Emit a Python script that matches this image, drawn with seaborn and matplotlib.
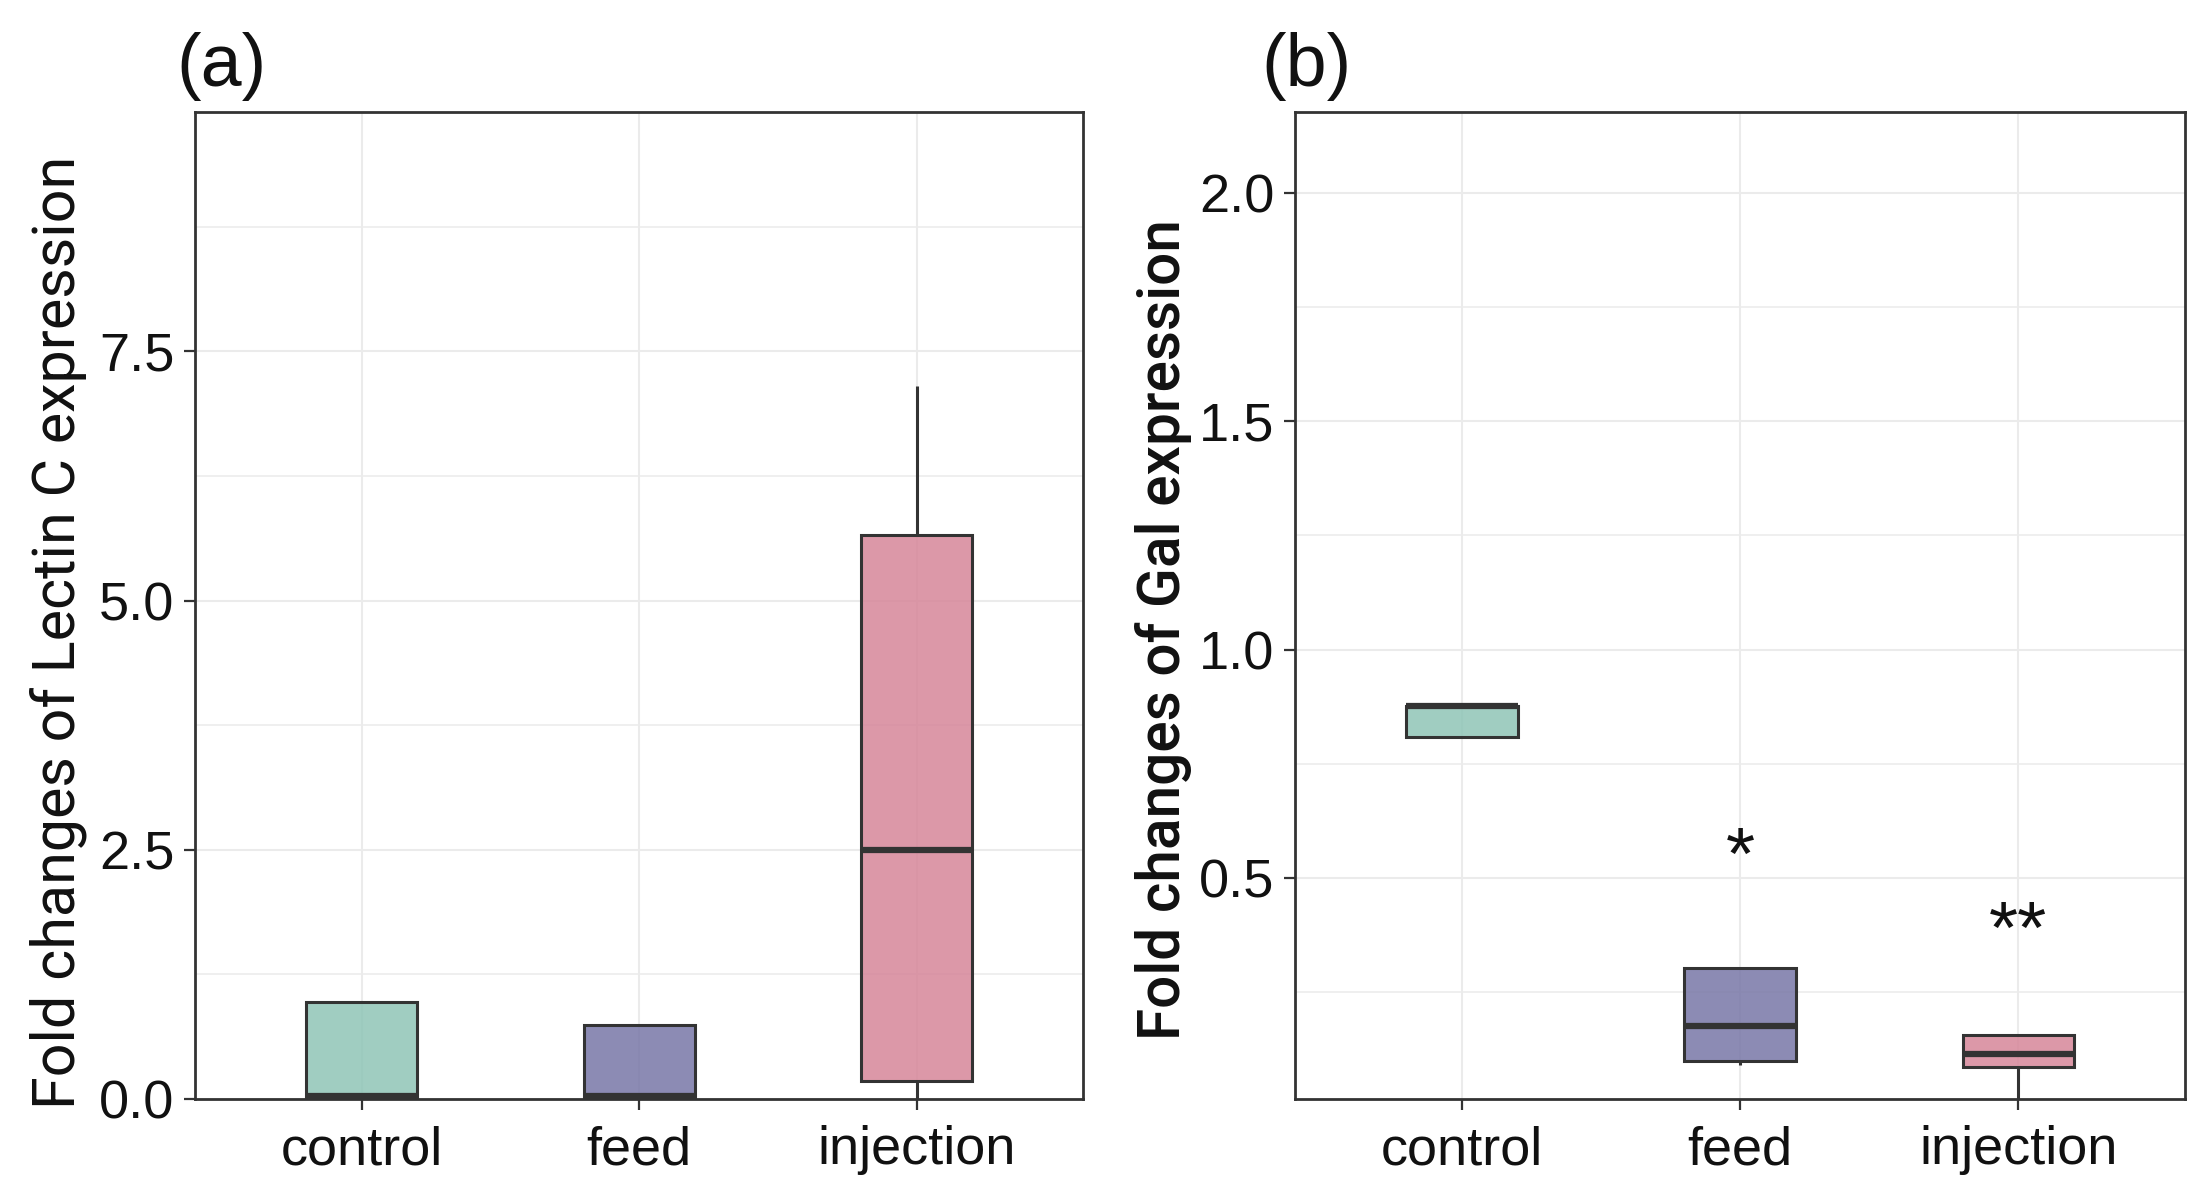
import numpy as np
import pandas as pd
import matplotlib
matplotlib.use("Agg")
import matplotlib.pyplot as plt
import matplotlib.transforms as mtransforms
import seaborn as sns

# ---------------- data ----------------
groups = ["control", "feed", "injection"]
# five-number summaries (min, Q1, median, Q3, max)
lectin_control = [0.02, 0.02, 0.03, 0.97, 0.97]
lectin_feed = [0.02, 0.02, 0.03, 0.74, 0.74]
lectin_injection = [0.0, 0.18, 2.50, 5.66, 7.15]

gal_control = [0.808, 0.808, 0.876, 0.876, 0.876]
gal_feed = [0.09, 0.099, 0.175, 0.303, 0.303]
gal_injection = [0.0, 0.086, 0.113, 0.155, 0.155]

gal_sig_labels = ["", "*", "**"]
gal_sig_y = [np.nan, 0.566, 0.404]

panel_labels = ["(a)", "(b)"]
ylabels = ["Fold changes of Lectin C expression", "Fold changes of Gal expression"]
yticks_a = [0.0, 2.5, 5.0, 7.5]
yticks_b = [0.5, 1.0, 1.5, 2.0]
minor_a = [1.25, 3.75, 6.25, 8.75]
minor_b = [0.25, 0.75, 1.25, 1.75]

colors = ["#8FC5B7", "#7877A7", "#D68699"]

df_a = pd.DataFrame({
    "group": np.repeat(groups, 5),
    "value": lectin_control + lectin_feed + lectin_injection,
})
df_b = pd.DataFrame({
    "group": np.repeat(groups, 5),
    "value": gal_control + gal_feed + gal_injection,
})

# ---------------- figure ----------------
W, H = 2208, 1204
fig = plt.figure(figsize=(W / 100, H / 100), dpi=100)
fig.patch.set_facecolor("white")

def px_axes(left, top, right, bottom):
    return fig.add_axes([left / W, 1 - bottom / H, (right - left) / W, (bottom - top) / H])

ax_a = px_axes(195, 112, 1083, 1099)
ax_b = px_axes(1295, 112, 2185, 1099)

dark = "#333333"
tick_font = ["Liberation Sans", "DejaVu Sans"]

def style_axes(ax, df, yticks, minor, ylim):
    sns.boxplot(data=df, x="group", y="value", hue="group", palette=colors,
                order=groups, hue_order=groups, width=0.4, saturation=1,
                showcaps=False, fliersize=0, linecolor=dark, linewidth=2.2,
                medianprops={"linewidth": 4.5, "color": dark},
                legend=False, ax=ax, zorder=3)
    for p in ax.patches:
        fc = p.get_facecolor()
        p.set_facecolor((fc[0], fc[1], fc[2], 0.85))
    ax.set_xlim(-0.6, 2.6)
    ax.set_ylim(*ylim)
    ax.set_yticks(yticks)
    ax.set_yticks(minor, minor=True)
    ax.set_facecolor("white")
    ax.set_axisbelow(True)
    ax.grid(True, which="major", color="#EBEBEB", linewidth=1.5)
    ax.grid(True, which="minor", axis="y", color="#EBEBEB", linewidth=1.1)
    for s in ax.spines.values():
        s.set_visible(True)
        s.set_color(dark)
        s.set_linewidth(2.0)
    ax.tick_params(axis="both", which="major", length=8, width=1.6, color=dark,
                   labelsize=39, labelcolor="#111111")
    ax.tick_params(axis="x", pad=11)
    ax.tick_params(axis="y", pad=7)
    ax.tick_params(which="minor", length=0)
    for lab in ax.get_xticklabels() + ax.get_yticklabels():
        lab.set_family(tick_font)
    ax.set_xlabel("")
    ax.set_ylabel("")

style_axes(ax_a, df_a, yticks_a, minor_a, (0.0, 9.9))
style_axes(ax_b, df_b, yticks_b, minor_b, (0.015, 2.178))

# significance marks (values are the glyph centres; shift so the star glyph is centred there)
star_fs = 54
star_tr = mtransforms.offset_copy(ax_b.transData, fig=fig, y=-0.16 * star_fs, units="points")
for i, (lab, yv) in enumerate(zip(gal_sig_labels, gal_sig_y)):
    if lab:
        ax_b.text(i, yv, lab, ha="center", va="center", fontsize=star_fs,
                  family=tick_font, color="#111111", zorder=5, transform=star_tr)

# panel labels
fig.text(176 / W, 1 - 86 / H, panel_labels[0], ha="left", va="baseline",
         fontsize=53, family=tick_font, color="#111111")
fig.text(1261 / W, 1 - 86 / H, panel_labels[1], ha="left", va="baseline",
         fontsize=53, family=tick_font, color="#111111")

# y labels (rotated), fit to measured length
lab_font = ["Roboto", "DejaVu Sans"]
ya = fig.text(58 / W, 1 - 632 / H, ylabels[0], rotation=90, ha="center", va="center",
              fontsize=40, family=lab_font, color="#111111")
yb = fig.text(1163 / W, 1 - 630 / H, ylabels[1], rotation=90, ha="center", va="center",
              fontsize=40, family=lab_font, fontweight="medium", color="#111111")

fig.canvas.draw()
r = fig.canvas.get_renderer()
for t, target in ((ya, 952), (yb, 821)):
    bb = t.get_window_extent(r)
    t.set_fontsize(t.get_fontsize() * target / bb.height)

fig.savefig("out.png", dpi=100, facecolor="white")
